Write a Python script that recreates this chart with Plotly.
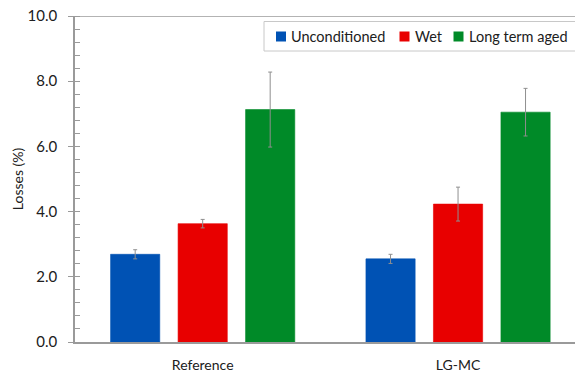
import plotly.graph_objects as go

# Sample groups and conditioning series
groups = ["Reference", "LG-MC"]
series = ["Unconditioned", "Wet", "Long term aged"]
colors = ["#0052B4", "#E80000", "#008A28"]

# Mean losses (%) and standard deviations per series, in group order
unconditioned = [2.69, 2.55]
unconditioned_sd = [0.14, 0.14]
wet = [3.63, 4.23]
wet_sd = [0.13, 0.52]
long_term_aged = [7.13, 7.05]
long_term_aged_sd = [1.15, 0.73]

values = [unconditioned, wet, long_term_aged]
errors = [unconditioned_sd, wet_sd, long_term_aged_sd]

y_ticks = [0, 2, 4, 6, 8, 10]
y_tick_labels = ["0.0", "2.0", "4.0", "6.0", "8.0", "10.0"]

FONT = "Lato, 'Open Sans', sans-serif"
TEXT = "#202020"
AXIS_GREY = "#9a9a9a"

W, H = 575, 375
M_L, M_R, M_T, M_B = 75, 0, 16, 33
PLOT_W = W - M_L - M_R
PLOT_H = H - M_T - M_B


def px_x(px):
    """Horizontal pixel position -> paper fraction."""
    return (px - M_L) / PLOT_W


def px_y(py):
    """Vertical pixel position (from top) -> paper fraction."""
    return (H - M_B - py) / PLOT_H


fig = go.Figure()
for name, vals, errs, col in zip(series, values, errors, colors):
    fig.add_trace(go.Bar(
        name=name,
        x=groups,
        y=vals,
        marker=dict(color=col, line=dict(color=col, width=0.6)),
        error_y=dict(type="data", array=errs, visible=True,
                     color="#8f8f8f", thickness=1, width=2),
        showlegend=False,
    ))

fig.update_layout(
    width=W,
    height=H,
    margin=dict(l=M_L, r=M_R, t=M_T, b=M_B),
    paper_bgcolor="white",
    plot_bgcolor="white",
    barmode="group",
    bargap=0.207,
    bargroupgap=0.271,
    font=dict(family=FONT, size=14, color=TEXT),
    xaxis=dict(
        range=[-0.5, 1.458],
        showline=True, linecolor=AXIS_GREY, linewidth=1.5,
        ticks="", showgrid=False, zeroline=False,
        ticklabelstandoff=9,
        tickfont=dict(family=FONT, size=14, color=TEXT),
    ),
    yaxis=dict(
        range=[0, 10],
        tickvals=y_ticks, ticktext=y_tick_labels,
        showline=True, linecolor=AXIS_GREY, linewidth=1.5,
        ticks="outside", ticklen=5, tickcolor=AXIS_GREY, tickwidth=1.2,
        minor=dict(dtick=0.4, ticks="inside", ticklen=5,
                   tickcolor=AXIS_GREY, tickwidth=1.2),
        showgrid=False, zeroline=False,
        ticklabelstandoff=8,
        tickfont=dict(family=FONT, size=15, color=TEXT),
        title=dict(text="Losses (%)", standoff=1,
                   font=dict(family=FONT, size=14, color=TEXT)),
    ),
)

# Plot-area top border
fig.add_shape(type="line", xref="paper", yref="y", x0=0, x1=1, y0=10, y1=10,
              line=dict(color=AXIS_GREY, width=1.5))

# Legend: single row box running off the right edge
fig.add_shape(type="rect", xref="paper", yref="paper",
              x0=px_x(264), x1=px_x(590), y0=px_y(51), y1=px_y(21.5),
              line=dict(color="#c8c8c8", width=1), fillcolor="white")

legend_swatch_x = [276, 399.5, 453.5]
for name, col, sx in zip(series, colors, legend_swatch_x):
    fig.add_shape(type="rect", xref="paper", yref="paper",
                  x0=px_x(sx), x1=px_x(sx + 10),
                  y0=px_y(41.5), y1=px_y(31.5),
                  line=dict(width=0), fillcolor=col)
    fig.add_annotation(text=name, xref="paper", yref="paper",
                       x=px_x(sx + 13), y=px_y(36.5),
                       xanchor="left", yanchor="middle", showarrow=False,
                       font=dict(family=FONT, size=14.5, color=TEXT))

fig.write_html("out.html")
